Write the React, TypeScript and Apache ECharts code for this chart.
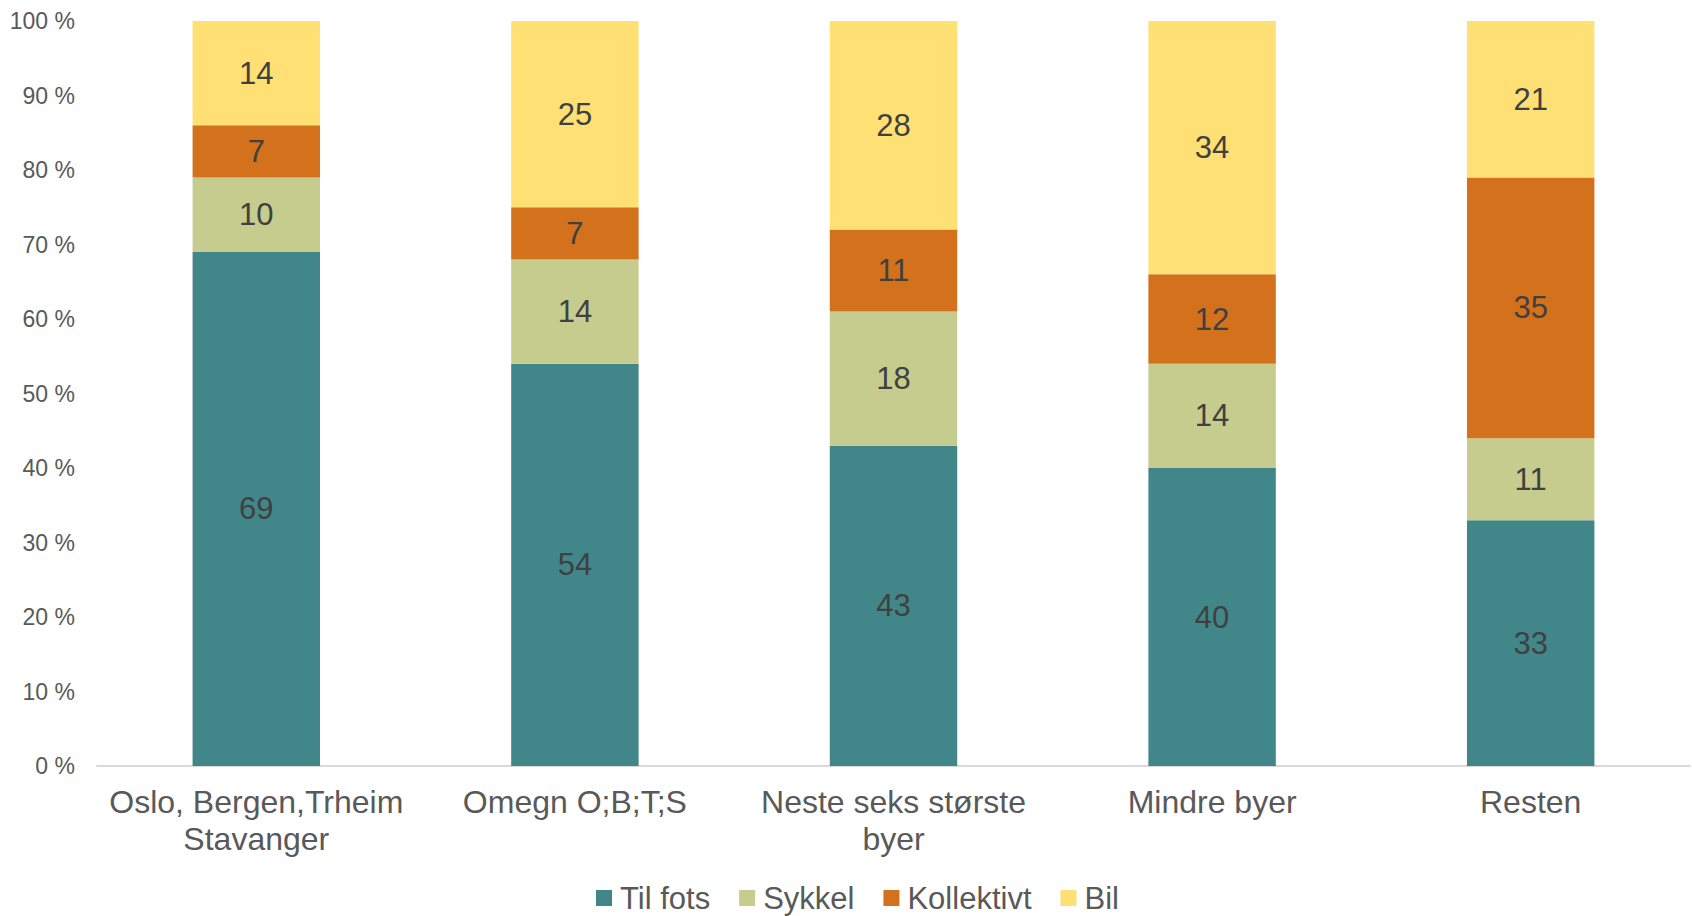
import React, { useEffect, useRef } from "react";
import * as echarts from "echarts";

const categories = [
  "Oslo, Bergen,Trheim\nStavanger",
  "Omegn O;B;T;S",
  "Neste seks største\nbyer",
  "Mindre byer",
  "Resten",
];
const tilFots = [69, 54, 43, 40, 33];
const sykkel = [10, 14, 18, 14, 11];
const kollektivt = [7, 7, 11, 12, 35];
const bil = [14, 25, 28, 34, 21];

const seriesNames = ["Til fots", "Sykkel", "Kollektivt", "Bil"];
const seriesData = [tilFots, sykkel, kollektivt, bil];
const colors = ["#41878A", "#C5CC8E", "#D4711D", "#FFE074"];

const FONT = "'Liberation Sans', Arial, sans-serif";

export default function App() {
  const ref = useRef<HTMLDivElement>(null);
  useEffect(() => {
    if (!ref.current) return;
    const chart = echarts.init(ref.current, undefined, { renderer: "svg" });
    chart.setOption({
      animation: false,
      backgroundColor: "#FFFFFF",
      textStyle: { fontFamily: FONT },
      grid: { left: 97, right: 2, top: 21, bottom: 150, containLabel: false },
      legend: {
        data: seriesNames,
        left: 596,
        top: 882,
        padding: 0,
        itemWidth: 16,
        itemHeight: 16,
        itemGap: 29,
        icon: "rect",
        textStyle: {
          fontSize: 31,
          lineHeight: 32,
          color: "#595959",
          fontFamily: FONT,
          padding: [0, 0, 0, 3],
        },
      },
      xAxis: {
        type: "category",
        data: categories,
        axisLine: { lineStyle: { color: "#D9D9D9", width: 2 } },
        axisTick: { show: false },
        axisLabel: {
          fontSize: 32,
          lineHeight: 37,
          color: "#595959",
          margin: 17,
          interval: 0,
          fontFamily: FONT,
        },
      },
      yAxis: {
        type: "value",
        min: 0,
        max: 100,
        interval: 10,
        splitLine: { show: false },
        axisLine: { show: false },
        axisTick: { show: false },
        axisLabel: {
          formatter: "{value} %",
          fontSize: 23,
          color: "#595959",
          margin: 22,
          fontFamily: FONT,
        },
      },
      series: seriesNames.map((name, i) => ({
        name,
        type: "bar",
        stack: "total",
        barWidth: "40%",
        data: seriesData[i],
        itemStyle: { color: colors[i] },
        label: {
          show: true,
          position: "inside",
          fontSize: 31,
          color: "#404040",
          fontFamily: FONT,
        },
      })),
    });
    return () => chart.dispose();
  }, []);
  return (
    <div
      ref={ref}
      style={{ position: "fixed", left: 0, top: 0, width: 1692, height: 916 }}
    />
  );
}
